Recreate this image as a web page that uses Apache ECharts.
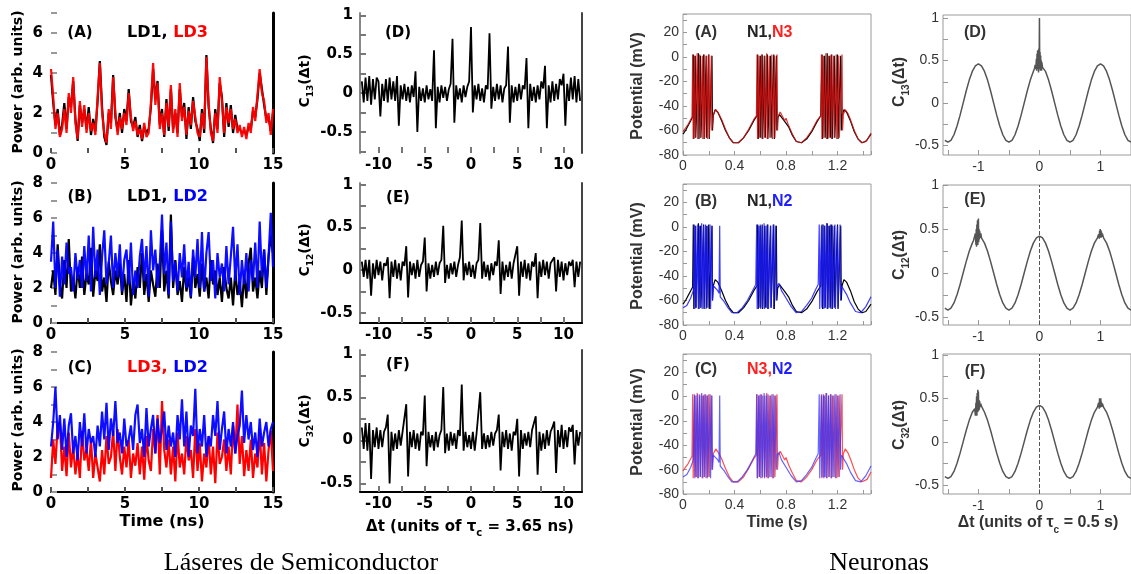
<!DOCTYPE html>
<html><head><meta charset="utf-8">
<script src="https://cdn.jsdelivr.net/npm/echarts@6/dist/echarts.min.js"></script>
<style>html,body{margin:0;padding:0;background:#fff}#c{width:1131px;height:574px}</style>
</head><body><div id="c"></div>
<script>
// ---------------- DATA ----------------
// Laser power time series, sampled every ldStep ns from t = 0
const ldStep = 0.15;
const A_LD1 = [3.9,2.5,1.4,2.2,0.9,1.4,2.5,1.2,2.8,2.3,
3.6,1.7,0.6,2.4,1.5,2.2,1.2,2.3,0.9,1.7,
1.1,2.6,4.6,2.3,0.8,0.4,2.0,1.5,3.9,1.8,
1.1,2.0,1.0,2.2,1.6,3.2,1.6,1.3,1.8,0.8,
1.4,0.6,1.3,1.0,1.2,2.3,4.2,2.7,3.6,1.4,
2.2,0.8,2.7,1.1,3.2,1.2,2.0,1.0,3.2,1.8,
2.5,0.7,2.3,1.2,2.8,1.6,1.2,0.6,2.2,1.0,
4.9,2.3,1.2,0.5,2.2,1.2,3.5,2.8,0.8,2.5,
1.3,2.4,1.0,1.9,1.2,1.2,1.0,1.1,0.9,1.3,
1.2,2.1,1.8,2.7,4.0,3.2,2.4,1.7,1.8,1.1,
2.0];
const A_LD3 = [4.2,2.8,1.2,2.0,0.8,1.2,2.2,1.0,3.0,2.0,
3.8,1.5,0.7,2.6,1.3,2.4,1.0,2.0,1.1,1.5,
0.9,2.8,4.5,2.0,1.0,0.5,2.2,1.2,3.8,2.0,
0.9,1.8,1.2,2.0,1.4,3.0,1.8,1.1,1.6,0.9,
1.2,0.7,1.5,0.8,1.0,2.5,4.5,2.4,3.5,1.2,
2.0,0.9,2.5,1.3,3.4,1.0,2.2,0.8,3.5,1.6,
2.3,0.9,2.1,1.4,2.6,1.8,1.0,0.8,2.0,1.2,
4.8,2.5,1.0,0.6,2.0,1.0,3.8,2.6,1.0,2.3,
1.5,2.2,1.2,1.7,1.0,1.4,0.8,1.3,0.7,1.5,
1.0,2.3,1.6,2.9,4.2,3.0,2.6,1.5,2.0,0.9,
2.2];
const B_LD1 = [2.0,3.0,1.6,4.5,2.2,1.4,3.6,2.0,4.8,1.8,
2.6,1.4,3.2,2.0,3.8,1.6,2.8,2.2,4.3,1.5,
3.0,2.4,4.5,1.8,2.6,1.2,3.5,2.4,1.6,3.0,
2.2,3.4,1.6,2.8,1.2,3.6,1.0,2.4,1.4,3.2,
2.0,4.0,1.6,2.8,1.2,3.0,2.2,1.5,3.4,2.0,
5.3,1.8,3.0,1.4,6.2,2.0,3.6,1.6,2.4,1.2,
3.2,1.8,2.6,1.4,3.8,2.0,2.8,1.5,3.4,1.8,
2.6,1.4,3.6,2.2,3.0,1.6,2.6,1.2,3.2,2.0,
1.4,2.6,1.0,3.0,1.6,2.4,0.9,2.8,1.4,3.4,
4.3,1.8,2.6,1.4,3.0,2.0,4.2,1.6,3.8,5.0,
4.0];
const B_LD2 = [3.5,5.8,2.0,4.2,1.5,3.8,2.2,4.6,2.8,3.2,
1.8,4.0,2.5,3.6,2.0,4.4,2.4,5.0,1.8,5.5,
2.6,4.2,1.6,3.8,5.3,2.2,3.4,5.0,2.0,4.0,
2.6,4.5,1.8,3.6,4.2,2.2,4.6,1.6,3.0,2.0,
3.8,4.8,2.4,4.4,1.5,5.3,3.0,4.2,2.0,3.4,
6.2,2.8,4.6,1.6,5.8,2.4,3.5,1.8,4.0,2.6,
4.5,2.0,3.5,1.5,4.2,2.6,4.8,2.0,5.2,1.8,
4.0,5.2,2.4,3.6,1.4,4.0,2.6,3.4,1.8,4.4,
2.2,3.8,5.5,2.4,4.5,1.6,3.6,2.2,4.0,1.8,
3.6,2.4,4.6,2.0,5.8,2.6,4.2,2.0,3.8,6.3,
3.2];
const C_LD3 = [0.8,3.0,1.6,3.8,4.0,1.2,2.6,0.9,3.4,1.4,
2.6,1.0,2.2,0.8,3.5,1.8,2.4,1.2,3.0,0.8,
2.2,1.4,0.6,2.4,1.0,3.2,1.6,2.0,3.5,1.2,
3.6,2.0,1.0,2.6,1.4,3.0,0.8,2.2,1.5,2.8,
1.0,2.6,0.7,3.2,1.8,1.2,3.6,2.2,4.4,1.0,
5.2,2.4,1.4,3.0,1.0,2.6,0.6,3.4,1.4,2.2,
1.0,3.2,1.8,2.4,0.8,3.6,1.2,2.8,0.6,2.2,
1.4,3.2,1.0,2.6,0.5,3.4,1.6,2.0,3.0,1.2,
2.6,1.0,3.8,2.2,5.0,1.6,3.2,0.9,2.4,1.2,
3.0,0.8,2.2,1.4,3.6,1.0,2.8,0.6,2.4,3.5,
1.2];
const C_LD2 = [2.6,4.0,6.0,3.0,4.4,2.4,4.2,2.0,3.8,4.5,
2.2,3.2,1.8,4.0,2.6,4.5,2.2,3.6,2.8,3.2,
2.0,3.8,2.6,4.6,3.0,5.1,2.4,4.2,3.2,5.2,
2.8,3.4,2.2,4.2,2.6,3.0,3.8,2.4,4.4,5.0,
2.8,3.6,2.0,4.8,2.6,3.6,4.4,2.2,4.2,2.8,
3.6,4.6,2.4,3.8,2.6,3.4,2.0,4.4,3.0,5.3,
2.6,4.6,2.0,3.8,3.2,5.9,2.2,3.6,2.6,4.4,
2.0,3.2,2.6,4.4,3.2,5.2,2.4,3.6,4.6,2.2,
3.6,2.6,4.0,2.2,3.2,3.8,5.8,2.8,4.4,3.0,
4.0,2.4,3.4,2.0,4.2,2.6,3.4,4.0,2.6,3.6,
4.0];

// Laser cross-correlations, sampled from corrStart every corrStep
const corrStart = -11.8, corrStep = 0.2;
const C13_laser = [0.15,-0.12,0.2,-0.1,0.22,-0.15,0.18,-0.08,0.2,0.15,
-0.3,0.12,-0.1,0.18,-0.12,0.2,-0.08,0.15,-0.1,0.22,
-0.42,0.1,-0.08,0.12,-0.1,0.08,-0.12,0.1,-0.05,0.28,
-0.5,0.08,-0.1,0.06,-0.12,0.1,-0.08,0.05,-0.1,0.55,
-0.45,0.08,-0.12,0.1,-0.06,0.08,-0.1,0.05,0.12,0.7,
-0.38,0.1,-0.08,0.06,-0.12,0.1,-0.05,0.08,0.15,0.85,
-0.25,0.1,-0.08,0.12,-0.1,0.06,-0.12,0.1,0.05,0.77,
-0.2,0.08,-0.1,0.12,-0.08,0.1,-0.12,0.06,0.1,0.6,
-0.38,0.1,-0.12,0.08,-0.1,0.12,-0.08,0.1,0.05,0.45,
-0.45,0.12,-0.1,0.08,-0.12,0.1,-0.08,0.15,0.06,0.35,
-0.45,0.1,-0.12,0.15,-0.1,0.12,-0.08,0.18,0.1,0.25,
-0.42,0.12,-0.1,0.2,-0.08,0.22,-0.12,0.18,-0.1];
const C12_laser = [0.1,-0.08,0.12,-0.1,0.12,-0.3,0.08,-0.1,0.12,-0.06,
0.1,-0.12,0.08,0.05,0.15,-0.33,0.1,-0.08,0.12,-0.1,
0.08,-0.12,0.1,0.05,0.28,-0.32,0.1,-0.06,0.08,-0.1,
0.12,-0.08,0.06,0.1,0.38,-0.25,0.08,-0.1,0.06,-0.08,
0.1,-0.06,0.08,0.12,0.52,-0.15,0.06,-0.1,0.08,-0.05,
0.1,-0.08,0.06,0.15,0.58,-0.12,0.08,-0.06,0.1,-0.08,
0.06,-0.1,0.08,0.12,0.55,-0.1,0.1,-0.08,0.06,-0.12,
0.08,-0.06,0.1,0.05,0.35,-0.28,0.1,-0.12,0.06,-0.08,
0.1,-0.1,0.08,0.06,0.28,-0.3,0.1,-0.08,0.12,-0.1,
0.08,-0.12,0.1,0.04,0.2,-0.33,0.1,-0.08,0.12,-0.06,
0.1,-0.1,0.08,0.06,0.15,-0.25,0.12,-0.08,0.1,-0.12,
0.08,-0.06,0.1,0.05,0.12,-0.2,0.1,-0.08,0.1];
const C32_laser = [0.15,-0.1,0.2,-0.12,0.2,-0.45,0.12,-0.08,0.15,-0.1,
0.12,-0.08,0.1,0.15,0.3,-0.5,0.1,-0.12,0.08,-0.1,
0.12,-0.06,0.1,0.08,0.42,-0.42,0.1,-0.08,0.12,-0.1,
0.08,-0.12,0.1,0.06,0.52,-0.3,0.1,-0.08,0.06,-0.12,
0.1,-0.08,0.06,0.12,0.62,-0.15,0.08,-0.12,0.1,-0.06,
0.08,-0.1,0.12,0.05,0.65,-0.12,0.1,-0.08,0.06,-0.1,
0.1,-0.12,0.08,0.1,0.56,-0.1,0.08,-0.1,0.06,-0.08,
0.1,-0.06,0.08,0.12,0.3,-0.35,0.1,-0.08,0.12,-0.1,
0.08,-0.12,0.1,0.06,0.25,-0.42,0.12,-0.1,0.08,-0.06,
0.1,-0.08,0.12,0.1,0.28,-0.4,0.1,-0.12,0.08,-0.1,
0.12,-0.06,0.1,0.15,0.22,-0.38,0.12,-0.08,0.18,-0.1,
0.12,-0.08,0.15,0.1,0.18,-0.28,0.12,-0.06,0.1];

// Neuron membrane potentials [time s, mV]
const N1 = [[0,-63],[0.02,-60],[0.04,-56],[0.06,-52],[0.075,-49],
[0.08,2],[0.084,-67],[0.095,1],[0.099,-66],[0.12,3],[0.124,-67],[0.135,1],[0.139,-66],[0.16,2],[0.164,-67],[0.18,1],[0.184,-66],[0.2,2],[0.204,-67],[0.225,1],[0.229,-60],
[0.235,-48],[0.25,-43],[0.27,-45],[0.3,-52],[0.33,-60],[0.36,-66],[0.39,-70],[0.43,-70],[0.47,-66],[0.51,-60],[0.55,-52],[0.575,-48],
[0.58,2],[0.584,-67],[0.6,1],[0.604,-66],[0.615,2],[0.619,-67],[0.635,1],[0.639,-66],[0.655,2],[0.659,-67],[0.68,1],[0.684,-66],[0.705,2],[0.709,-67],[0.725,1],[0.729,-60],
[0.735,-50],[0.75,-47],[0.77,-50],[0.785,-52],[0.8,-51],[0.82,-57],[0.85,-64],[0.88,-69],[0.92,-70],[0.96,-67],[1.0,-61],[1.04,-53],[1.07,-48],
[1.08,2],[1.084,-67],[1.1,1],[1.104,-66],[1.12,3],[1.124,-67],[1.14,1],[1.144,-66],[1.155,2],[1.159,-67],[1.175,1],[1.179,-66],[1.2,2],[1.204,-67],[1.225,1],[1.229,-60],
[1.235,-48],[1.25,-43],[1.27,-45],[1.3,-52],[1.33,-61],[1.36,-67],[1.39,-70],[1.42,-69],[1.46,-63]];
const N3 = [[0,-61],[0.02,-58],[0.04,-55],[0.06,-51],[0.07,-49],
[0.075,2],[0.079,-67],[0.09,1],[0.094,-66],[0.11,3],[0.114,-67],[0.13,2],[0.134,-66],[0.15,1],[0.154,-67],[0.165,2],[0.169,-66],[0.185,1],[0.189,-67],[0.2,2],[0.204,-66],[0.22,1],[0.224,-60],
[0.235,-47],[0.255,-43],[0.275,-46],[0.3,-51],[0.33,-59],[0.36,-66],[0.39,-70],[0.43,-70],[0.47,-66],[0.51,-59],[0.55,-51],[0.57,-48],
[0.575,2],[0.579,-67],[0.59,1],[0.594,-66],[0.61,2],[0.614,-67],[0.63,1],[0.634,-66],[0.65,3],[0.654,-67],[0.67,1],[0.674,-66],[0.69,2],[0.694,-67],[0.71,1],[0.714,-66],[0.73,2],[0.734,-60],
[0.74,-48],[0.755,-45],[0.775,-49],[0.79,-52],[0.8,-50],[0.82,-56],[0.85,-63],[0.88,-69],[0.92,-70],[0.96,-66],[1.0,-60],[1.04,-52],[1.07,-48],
[1.075,2],[1.079,-67],[1.09,1],[1.094,-66],[1.11,3],[1.114,-67],[1.13,1],[1.134,-66],[1.15,2],[1.154,-67],[1.17,1],[1.174,-66],[1.19,2],[1.194,-67],[1.21,1],[1.214,-66],[1.235,2],[1.239,-60],
[1.245,-47],[1.26,-43],[1.28,-46],[1.3,-51],[1.33,-60],[1.36,-67],[1.39,-70],[1.43,-68],[1.46,-62]];
const N2 = [[0,-66],[0.03,-64],[0.06,-58],[0.08,-52],
[0.088,2],[0.092,-67],[0.1,1],[0.104,-66],[0.115,2],[0.119,-67],[0.13,1],[0.134,-66],[0.145,3],[0.149,-67],[0.16,1],[0.164,-66],[0.175,2],[0.179,-67],[0.19,1],[0.194,-66],[0.21,2],[0.214,-67],[0.225,1],[0.229,-60],
[0.235,-48],[0.25,-47],[0.27,-52],[0.28,-54],[0.285,1],[0.289,-57],[0.3,-58],[0.32,-61],[0.35,-66],[0.38,-70],[0.42,-70],[0.46,-66],[0.5,-60],[0.54,-52],[0.565,-47],
[0.572,2],[0.576,-67],[0.588,1],[0.592,-66],[0.6,2],[0.604,-67],[0.615,1],[0.619,-66],[0.63,3],[0.634,-67],[0.645,1],[0.649,-66],[0.66,2],[0.664,-67],[0.68,1],[0.684,-66],[0.7,2],[0.704,-67],[0.72,1],[0.724,-60],
[0.73,-48],[0.745,-46],[0.765,-52],[0.8,-58],[0.84,-65],[0.88,-70],[0.92,-69],[0.96,-64],[1.0,-58],[1.03,-51],[1.05,-47],
[1.058,2],[1.062,-67],[1.075,1],[1.079,-66],[1.09,2],[1.094,-67],[1.1,1],[1.104,-66],[1.115,3],[1.119,-67],[1.13,1],[1.134,-66],[1.145,2],[1.149,-67],[1.16,1],[1.164,-66],[1.18,2],[1.184,-67],[1.2,1],[1.204,-66],[1.22,2],[1.224,-60],
[1.23,-48],[1.245,-47],[1.27,-55],[1.3,-62],[1.34,-69],[1.38,-70],[1.42,-65],[1.46,-57]];

// Neuron cross-correlations [Δt, C]
const C13_neuron = [[-1.55,-0.437],[-1.5,-0.46],[-1.45,-0.437],[-1.4,-0.372],[-1.35,-0.27],[-1.3,-0.142],[-1.25,0],[-1.2,0.142],[-1.15,0.27],[-1.1,0.372],[-1.05,0.437],[-1.0,0.46],[-0.95,0.437],[-0.9,0.372],[-0.85,0.27],[-0.8,0.142],[-0.75,0],[-0.7,-0.142],[-0.65,-0.27],[-0.6,-0.372],[-0.55,-0.437],[-0.5,-0.46],[-0.45,-0.437],[-0.4,-0.372],[-0.35,-0.27],[-0.3,-0.142],[-0.25,0],[-0.2,0.142],[-0.15,0.27],[-0.1,0.372],
[-0.08,0.41],[-0.07,0.45],[-0.06,0.40],[-0.05,0.52],[-0.045,0.38],[-0.04,0.58],[-0.035,0.40],[-0.03,0.62],[-0.025,0.42],[-0.02,0.55],[-0.015,0.36],[-0.01,0.64],[-0.005,0.42],[0,1.0],[0.005,0.4],[0.01,0.6],[0.015,0.38],[0.02,0.56],[0.025,0.4],[0.03,0.5],[0.035,0.38],[0.04,0.48],[0.05,0.42],[0.06,0.44],[0.07,0.43],[0.08,0.41],
[0.1,0.372],[0.15,0.27],[0.2,0.142],[0.25,0],[0.3,-0.142],[0.35,-0.27],[0.4,-0.372],[0.45,-0.437],[0.5,-0.46],[0.55,-0.437],[0.6,-0.372],[0.65,-0.27],[0.7,-0.142],[0.75,0],[0.8,0.142],[0.85,0.27],[0.9,0.372],[0.95,0.437],[1.0,0.46],[1.05,0.437],[1.1,0.372],[1.15,0.27],[1.2,0.142],[1.25,0],[1.3,-0.142],[1.35,-0.27],[1.4,-0.372],[1.45,-0.437],[1.5,-0.46]];
const C12_neuron = [[-1.55,-0.399],[-1.5,-0.42],[-1.45,-0.399],[-1.4,-0.34],[-1.35,-0.247],[-1.3,-0.13],[-1.25,0],[-1.2,0.13],[-1.15,0.247],[-1.1,0.34],
[-1.08,0.37],[-1.06,0.36],[-1.05,0.45],[-1.04,0.32],[-1.035,0.5],[-1.03,0.3],[-1.025,0.55],[-1.02,0.33],[-1.015,0.6],[-1.01,0.32],[-1.005,0.5],[-1.0,0.62],[-0.995,0.35],[-0.99,0.5],[-0.985,0.38],[-0.98,0.48],[-0.97,0.4],[-0.96,0.45],[-0.95,0.4],[-0.93,0.41],
[-0.9,0.34],[-0.85,0.247],[-0.8,0.13],[-0.75,0],[-0.7,-0.13],[-0.65,-0.247],[-0.6,-0.34],[-0.55,-0.399],[-0.5,-0.42],[-0.45,-0.399],[-0.4,-0.34],[-0.35,-0.247],[-0.3,-0.13],[-0.25,0],[-0.2,0.13],[-0.15,0.247],[-0.1,0.34],[-0.05,0.399],[0,0.42],[0.05,0.399],[0.1,0.34],[0.15,0.247],[0.2,0.13],[0.25,0],[0.3,-0.13],[0.35,-0.247],[0.4,-0.34],[0.45,-0.399],[0.5,-0.42],[0.55,-0.399],[0.6,-0.34],[0.65,-0.247],[0.7,-0.13],[0.75,0],[0.8,0.13],[0.85,0.247],
[0.9,0.34],[0.95,0.4],[0.97,0.44],[0.98,0.39],[0.985,0.48],[0.99,0.4],[0.995,0.5],[1.0,0.42],[1.005,0.49],[1.01,0.4],[1.015,0.47],[1.02,0.41],[1.03,0.45],[1.05,0.4],[1.1,0.34],
[1.15,0.247],[1.2,0.13],[1.25,0],[1.3,-0.13],[1.35,-0.247],[1.4,-0.34],[1.45,-0.399],[1.5,-0.42]];
const C32_neuron = [[-1.55,-0.399],[-1.5,-0.42],[-1.45,-0.399],[-1.4,-0.34],[-1.35,-0.247],[-1.3,-0.13],[-1.25,0],[-1.2,0.13],[-1.15,0.247],[-1.1,0.34],
[-1.08,0.36],[-1.06,0.38],[-1.05,0.3],[-1.04,0.45],[-1.035,0.32],[-1.03,0.52],[-1.025,0.3],[-1.02,0.56],[-1.015,0.34],[-1.01,0.6],[-1.005,0.35],[-1.0,0.58],[-0.995,0.36],[-0.99,0.48],[-0.985,0.37],[-0.98,0.47],[-0.97,0.4],[-0.96,0.44],[-0.95,0.41],[-0.93,0.4],
[-0.9,0.34],[-0.85,0.247],[-0.8,0.13],[-0.75,0],[-0.7,-0.13],[-0.65,-0.247],[-0.6,-0.34],[-0.55,-0.399],[-0.5,-0.42],[-0.45,-0.399],[-0.4,-0.34],[-0.35,-0.247],[-0.3,-0.13],[-0.25,0],[-0.2,0.13],[-0.15,0.247],[-0.1,0.34],[-0.05,0.399],[0,0.42],[0.05,0.399],[0.1,0.34],[0.15,0.247],[0.2,0.13],[0.25,0],[0.3,-0.13],[0.35,-0.247],[0.4,-0.34],[0.45,-0.399],[0.5,-0.42],[0.55,-0.399],[0.6,-0.34],[0.65,-0.247],[0.7,-0.13],[0.75,0],[0.8,0.13],[0.85,0.247],
[0.9,0.34],[0.95,0.4],[0.97,0.45],[0.98,0.38],[0.985,0.5],[0.99,0.39],[0.995,0.48],[1.0,0.43],[1.005,0.5],[1.01,0.4],[1.015,0.46],[1.02,0.4],[1.03,0.44],[1.05,0.4],[1.1,0.34],
[1.15,0.247],[1.2,0.13],[1.25,0],[1.3,-0.13],[1.35,-0.247],[1.4,-0.34],[1.45,-0.399],[1.5,-0.42]];

// ---------------- CHART ----------------
const FL = '"DejaVu Sans", sans-serif';
const FR = '"Liberation Sans", Arial, sans-serif';
const toLD = arr => arr.map((v, i) => [+(i * ldStep).toFixed(3), v]);
const toCorr = arr => arr.map((v, i) => [+(corrStart + i * corrStep).toFixed(3), v]);

const boxed = {show: true, borderColor: '#9a9a9a', borderWidth: 1, backgroundColor: 'transparent'};
const grids = [
  {left: 51, top: 13, width: 222, height: 140},
  {left: 51, top: 183, width: 222, height: 140},
  {left: 51, top: 352, width: 222, height: 140},
  {left: 360, top: 13, width: 222, height: 140},
  {left: 360, top: 183, width: 222, height: 140},
  {left: 360, top: 350, width: 222, height: 142},
  Object.assign({left: 683, top: 14, width: 188, height: 141}, boxed),
  Object.assign({left: 683, top: 184, width: 188, height: 141}, boxed),
  Object.assign({left: 683, top: 354, width: 188, height: 140}, boxed),
  Object.assign({left: 943, top: 15, width: 188, height: 140}, boxed),
  Object.assign({left: 943, top: 185, width: 188, height: 140}, boxed),
  Object.assign({left: 943, top: 354, width: 188, height: 140}, boxed)
].map(g => Object.assign({outerBoundsMode: 'none', containLabel: false}, g));

const lblL = {color: '#000', fontFamily: FL, fontWeight: 'bold', fontSize: 15};
const lblR = {color: '#333', fontFamily: FR, fontWeight: 'normal', fontSize: 14};
const near = (v, s) => Math.abs(Math.round(v / s) * s - v) < 1e-6;

function ldX(g, line) {
  return {gridIndex: g, type: 'value', min: 0, max: 15, interval: 2.5,
    axisLine: {show: line, onZero: false, lineStyle: {color: '#000', width: 2}},
    axisTick: {show: true, inside: true, length: 5, lineStyle: {color: '#555', width: 2}},
    axisLabel: Object.assign({margin: 5, formatter: v => (near(v, 5) ? String(Math.round(v)) : '')}, lblL),
    splitLine: {show: false}};
}
function ldY(g, max) {
  return {gridIndex: g, type: 'value', min: 0, max: max, interval: 1,
    axisLine: {show: false, onZero: false},
    axisTick: {show: true, inside: true, length: 6, lineStyle: {color: '#999', width: 2}},
    axisLabel: Object.assign({margin: 8, formatter: v => (near(v, 2) ? String(Math.round(v)) : '')}, lblL),
    splitLine: {show: false}};
}
function cX(g, line) {
  return {gridIndex: g, type: 'value', min: -12, max: 12,
    axisLine: {show: line, onZero: false, lineStyle: {color: '#000', width: 2}},
    axisTick: {show: true, inside: true, length: 6, customValues: [-10, -7.5, -5, -2.5, 0, 2.5, 5, 7.5, 10], lineStyle: {color: '#777', width: 2}},
    axisLabel: Object.assign({margin: 5, customValues: [-10, -5, 0, 5, 10]}, lblL),
    splitLine: {show: false}};
}
function cY(g, min, max) {
  return {gridIndex: g, type: 'value', min: min, max: max,
    axisLine: {show: true, onZero: false, lineStyle: {color: '#888', width: 2}},
    axisTick: {show: true, inside: true, length: 6, customValues: [-0.75, -0.5, -0.25, 0, 0.25, 0.5, 0.75, 1].filter(v => v >= min && v <= max), lineStyle: {color: '#777', width: 2}},
    axisLabel: Object.assign({margin: 7, customValues: [-0.5, 0, 0.5, 1]}, lblL),
    splitLine: {show: false}};
}
function rightLine(g, min, max, color, width) {
  return {gridIndex: g, type: 'value', position: 'right', min: min, max: max,
    axisLine: {show: true, onZero: false, lineStyle: {color: color, width: width}},
    axisTick: {show: false}, axisLabel: {show: false}, splitLine: {show: false}};
}
function nX(g) {
  return {gridIndex: g, type: 'value', min: 0, max: 1.46, interval: 0.2,
    axisLine: {show: false, onZero: false},
    axisTick: {show: true, inside: true, length: 4, lineStyle: {color: '#999'}},
    axisLabel: Object.assign({margin: 4, formatter: v => (near(v, 0.4) ? String(+v.toFixed(1)) : '')}, lblR),
    splitLine: {show: false}};
}
function nY(g) {
  return {gridIndex: g, type: 'value', min: -80, max: 35, interval: 10,
    axisLine: {show: false, onZero: false},
    axisTick: {show: true, inside: true, length: 4, lineStyle: {color: '#999'}},
    axisLabel: Object.assign({margin: 4, formatter: v => (near(v, 20) && v <= 20 ? String(Math.round(v)) : '')}, lblR),
    splitLine: {show: false}};
}
function rX(g) {
  return {gridIndex: g, type: 'value', min: -1.58, max: 1.5,
    axisLine: {show: false, onZero: false},
    axisTick: {show: true, inside: true, length: 5, customValues: [-1.5, -1, -0.5, 0, 0.5, 1], lineStyle: {color: '#999'}},
    axisLabel: Object.assign({margin: 5, customValues: [-1, 0, 1]}, lblR),
    splitLine: {show: false}};
}
function rY(g, min, max) {
  return {gridIndex: g, type: 'value', min: min, max: max,
    axisLine: {show: false, onZero: false},
    axisTick: {show: true, inside: true, length: 5, customValues: [-0.5, -0.25, 0, 0.25, 0.5, 0.75, 1].filter(v => v >= min && v <= max), lineStyle: {color: '#999'}},
    axisLabel: Object.assign({margin: 4, customValues: [-0.5, 0, 0.5, 1]}, lblR),
    splitLine: {show: false}};
}

const xAxes = [ldX(0, false), ldX(1, true), ldX(2, true), cX(3, false), cX(4, true), cX(5, true), nX(6), nX(7), nX(8), rX(9), rX(10), rX(11)];
const yAxes = [ldY(0, 7), ldY(1, 8), ldY(2, 8),
  cY(3, -0.77, 1.03), cY(4, -0.62, 1.02), cY(5, -0.6, 1.05),
  nY(6), nY(7), nY(8),
  rY(9, -0.61, 1.035), rY(10, -0.59, 1.0), rY(11, -0.6, 1.01),
  rightLine(0, 0, 7, '#000', 3), rightLine(1, 0, 8, '#000', 3), rightLine(2, 0, 8, '#000', 3),
  rightLine(3, -0.77, 1.03, '#444', 2), rightLine(4, -0.62, 1.02, '#444', 2), rightLine(5, -0.6, 1.05, '#444', 2)];

function line(g, data, color, width, opacity, extra) {
  return Object.assign({type: 'line', xAxisIndex: g, yAxisIndex: g, data: data, symbol: 'none', showSymbol: false,
    silent: true, animation: false,
    lineStyle: {color: color, width: width, opacity: opacity == null ? 1 : opacity}}, extra || {});
}
const dash0 = {markLine: {silent: true, symbol: 'none', label: {show: false},
  lineStyle: {color: '#555', type: 'dashed', width: 1}, data: [{xAxis: 0}]}};

const series = [
  line(0, toLD(A_LD1), '#000', 2.2),
  line(0, toLD(A_LD3), '#ff0000', 2.2, 0.95),
  line(1, toLD(B_LD1), '#000', 2.2),
  line(1, toLD(B_LD2), '#0000ff', 2.2, 0.95),
  line(2, toLD(C_LD3), '#ff0000', 2.2),
  line(2, toLD(C_LD2), '#0000ff', 2.2, 0.95),
  line(3, toCorr(C13_laser), '#000', 1.8),
  line(4, toCorr(C12_laser), '#000', 1.8),
  line(5, toCorr(C32_laser), '#000', 1.8),
  line(6, N1, '#000', 1.2),
  line(6, N3, '#d01010', 1.2, 0.85),
  line(7, N1, '#000', 1.2),
  line(7, N2, '#1a1aff', 1.2, 0.85),
  line(8, N3, '#ff3030', 1.2, 0.85),
  line(8, N2, '#3030ff', 1.2, 0.75),
  line(9, C13_neuron, '#555', 1.5),
  line(10, C12_neuron, '#555', 1.5, 1, dash0),
  line(11, C32_neuron, '#555', 1.5, 1, dash0)
];

function txt(x, y, text, font, fill, opts) {
  return Object.assign({type: 'text', x: x, y: y, silent: true,
    style: Object.assign({text: text, font: font, fill: fill, align: 'center', verticalAlign: 'middle'}, (opts && opts.style) || {})},
    (opts && opts.el) || {});
}
const ROT = {el: {rotation: Math.PI / 2}};
const bL = s => 'bold ' + s + 'px ' + FL;
const bR = s => 'bold ' + s + 'px ' + FR;

function cLabel(x, y, sub, fam, size, color) {
  return {type: 'text', x: x, y: y, rotation: Math.PI / 2, silent: true,
    style: {text: '{a|C}{s|' + sub + '}{a|(Δt)}', align: 'center', verticalAlign: 'middle',
      rich: {a: {fontFamily: fam, fontWeight: 'bold', fontSize: size, fill: color, lineHeight: size + 6, verticalAlign: 'middle'},
             s: {fontFamily: fam, fontWeight: 'bold', fontSize: Math.round(size * 0.65), fill: color, lineHeight: size + 6, verticalAlign: 'bottom'}}}};
}
function tauLabel(x, y, val, fam, size, color) {
  return {type: 'text', x: x, y: y, silent: true,
    style: {text: '{a|Δt (units of τ}{s|c}{a| = ' + val + ')}', align: 'center', verticalAlign: 'middle',
      rich: {a: {fontFamily: fam, fontWeight: 'bold', fontSize: size, fill: color, lineHeight: size + 8, verticalAlign: 'middle'},
             s: {fontFamily: fam, fontWeight: 'bold', fontSize: Math.round(size * 0.65), fill: color, lineHeight: size + 8, verticalAlign: 'bottom'}}}};
}
function pairLabel(x, y, t1, c1, t2, c2, fam, size) {
  return {type: 'text', x: x, y: y, silent: true,
    style: {text: '{a|' + t1 + '}{b|' + t2 + '}', align: 'left', verticalAlign: 'middle',
      rich: {a: {fontFamily: fam, fontWeight: 'bold', fontSize: size, fill: c1},
             b: {fontFamily: fam, fontWeight: 'bold', fontSize: size, fill: c2}}}};
}

const graphics = [
  txt(18, 82, 'Power (arb. units)', bL(14), '#000', ROT),
  txt(18, 252, 'Power (arb. units)', bL(14), '#000', ROT),
  txt(18, 420, 'Power (arb. units)', bL(14), '#000', ROT),
  txt(80, 33, '(A)', bL(15), '#000'),
  txt(80, 197, '(B)', bL(15), '#000'),
  txt(80, 368, '(C)', bL(15), '#000'),
  pairLabel(127, 33, 'LD1, ', '#000', 'LD3', '#ff0000', FL, 16),
  pairLabel(127, 197, 'LD1, ', '#000', 'LD2', '#0000ff', FL, 16),
  pairLabel(127, 368, 'LD3, ', '#ff0000', 'LD2', '#0000ff', FL, 16),
  txt(162, 522, 'Time (ns)', bL(16), '#000'),
  cLabel(305, 81, '13', FL, 14, '#000'),
  cLabel(305, 250, '12', FL, 14, '#000'),
  cLabel(305, 421, '32', FL, 14, '#000'),
  txt(398, 33, '(D)', bL(15), '#000'),
  txt(398, 198, '(E)', bL(15), '#000'),
  txt(398, 365, '(F)', bL(15), '#000'),
  tauLabel(470, 527, '3.65 ns', FL, 15, '#000'),
  txt(638, 86, 'Potential (mV)', bR(16), '#333', ROT),
  txt(638, 256, 'Potential (mV)', bR(16), '#333', ROT),
  txt(638, 422, 'Potential (mV)', bR(16), '#333', ROT),
  txt(706, 33, '(A)', bR(16), '#333'),
  txt(706, 202, '(B)', bR(16), '#333'),
  txt(706, 370, '(C)', bR(16), '#333'),
  pairLabel(747, 33, 'N1,', '#222', 'N3', '#ff2020', FR, 16),
  pairLabel(747, 202, 'N1,', '#222', 'N2', '#2020ff', FR, 16),
  pairLabel(747, 370, 'N3,', '#ff2020', 'N2', '#2020ff', FR, 16),
  txt(777, 523, 'Time (s)', bR(16), '#333'),
  cLabel(900, 82, '13', FR, 16, '#333'),
  cLabel(900, 255, '12', FR, 16, '#333'),
  cLabel(900, 425, '32', FR, 16, '#333'),
  txt(975, 33, '(D)', bR(16), '#333'),
  txt(975, 200, '(E)', bR(16), '#333'),
  txt(975, 372, '(F)', bR(16), '#333'),
  tauLabel(1038, 523, '0.5 s', FR, 16, '#333'),
  txt(301, 563, 'Láseres de Semiconductor', '26px "Liberation Serif", "Times New Roman", serif', '#000'),
  txt(879, 563, 'Neuronas', '26px "Liberation Serif", "Times New Roman", serif', '#000')
];

const chart = echarts.init(document.getElementById('c'), null, {renderer: 'canvas', width: 1131, height: 574});
chart.setOption({
  backgroundColor: '#fff',
  animation: false,
  grid: grids,
  xAxis: xAxes,
  yAxis: yAxes,
  series: series,
  graphic: graphics
});
</script>
</body></html>
